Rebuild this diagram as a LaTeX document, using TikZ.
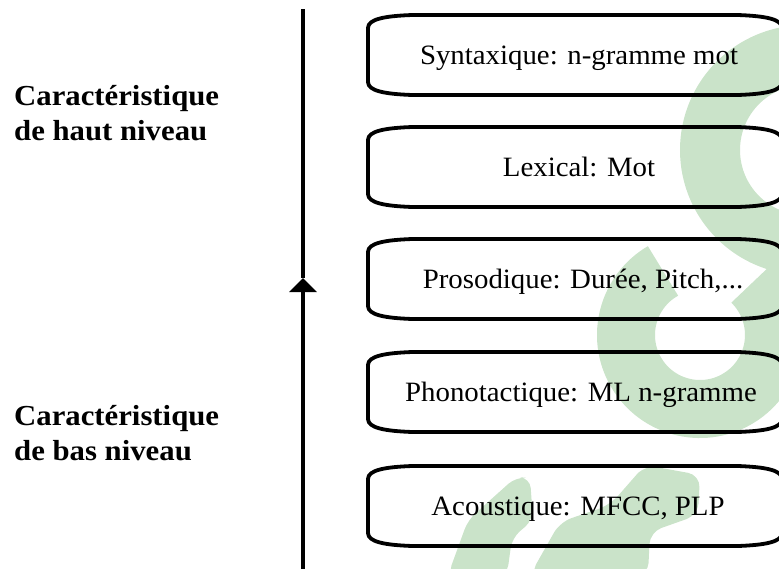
\documentclass[tikz,border=0pt]{standalone}
\usepackage{fontspec}
\setmainfont{Liberation Serif}
\newfontfamily\boxfont{Liberation Serif}[FakeStretch=1.03]
\newfontfamily\lblfont{Liberation Serif}[FakeStretch=1.06]
\usetikzlibrary{arrows.meta}
\definecolor{wmgreen}{RGB}{202,227,201}
\tikzset{
  lvl/.style={minimum width=414pt, minimum height=80pt, inner sep=0pt,
    font=\boxfont\fontsize{28}{32}\selectfont, text height=18.5pt, text depth=0pt},
  boxline/.style={line width=3.8pt, line join=round},
  lbl/.style={anchor=base west, inner sep=0pt,
    font=\lblfont\bfseries\fontsize{29}{35}\selectfont},
  axisline/.style={line width=4.6pt},
}
\begin{document}
\begin{tikzpicture}[x=1pt,y=-1pt]
\useasboundingbox (0,0) rectangle (779,568);

% faint green background logo
\begin{scope}
  \clip (0,0) rectangle (779,568);
  \draw[wmgreen, line width=60pt] (805,150) circle[radius=95];
  \draw[wmgreen, line width=58pt] (700,335) ++(240:74) arc[start angle=240, end angle=-45, radius=74];
  \fill[wmgreen, rounded corners=10pt] (516,477) -- (530,478) -- (533,520) -- (512,538)
    -- (507,575) -- (448,575) -- (468,520) -- cycle;
  \fill[wmgreen, rounded corners=12pt] (645,465) -- (700,475) -- (698,515) -- (650,532)
    -- (648,575) -- (530,575) -- (560,522) -- (610,505) -- cycle;
\end{scope}

% vertical axis, arrow pointing upwards
\coordinate (axtop) at (303,9);
\coordinate (axmid) at (303,278);
\coordinate (axbot) at (303,572);
\draw[axisline, -{Triangle[length=14pt,width=27pt]}] (axbot) -- (axmid);
\draw[axisline] (axmid) -- (axtop);

% side labels
\node[lbl] (hautA) at (14,105) {Caractéristique};
\node[lbl] (hautB) at (14,140) {de haut niveau};
\node[lbl] (basA) at (14,425) {Caractéristique};
\node[lbl] (basB) at (14,460) {de bas niveau};

% feature levels (text centres slightly right of the outline centre x=575)
\node[lvl] (syn) at (579,55)  {Syntaxique: n-gramme mot};
\node[lvl] (lex) at (579,167) {Lexical: Mot};
\node[lvl] (pro) at (583,279) {Prosodique: Durée, Pitch,...};
\node[lvl] (pho) at (581,392) {Phonotactique: ML n-gramme};
\node[lvl] (aco) at (578,506) {Acoustique: MFCC, PLP};

% box outlines with flattened corners, spanning x = 368 .. 782
\foreach \n/\dx in {syn/4,lex/4,pro/8,pho/6,aco/3}{
  \draw[boxline] ([shift={(-207-\dx,-27)}]\n.center)
    .. controls ([shift={(-207-\dx,-36)}]\n.center) and ([shift={(-190-\dx,-39)}]\n.center) .. ([shift={(-163-\dx,-40)}]\n.center)
    -- ([shift={(163-\dx,-40)}]\n.center)
    .. controls ([shift={(190-\dx,-39)}]\n.center) and ([shift={(207-\dx,-36)}]\n.center) .. ([shift={(207-\dx,-27)}]\n.center)
    -- ([shift={(207-\dx,27)}]\n.center)
    .. controls ([shift={(207-\dx,36)}]\n.center) and ([shift={(190-\dx,39)}]\n.center) .. ([shift={(163-\dx,40)}]\n.center)
    -- ([shift={(-163-\dx,40)}]\n.center)
    .. controls ([shift={(-190-\dx,39)}]\n.center) and ([shift={(-207-\dx,36)}]\n.center) .. ([shift={(-207-\dx,27)}]\n.center)
    -- cycle;
}
\end{tikzpicture}
\end{document}
